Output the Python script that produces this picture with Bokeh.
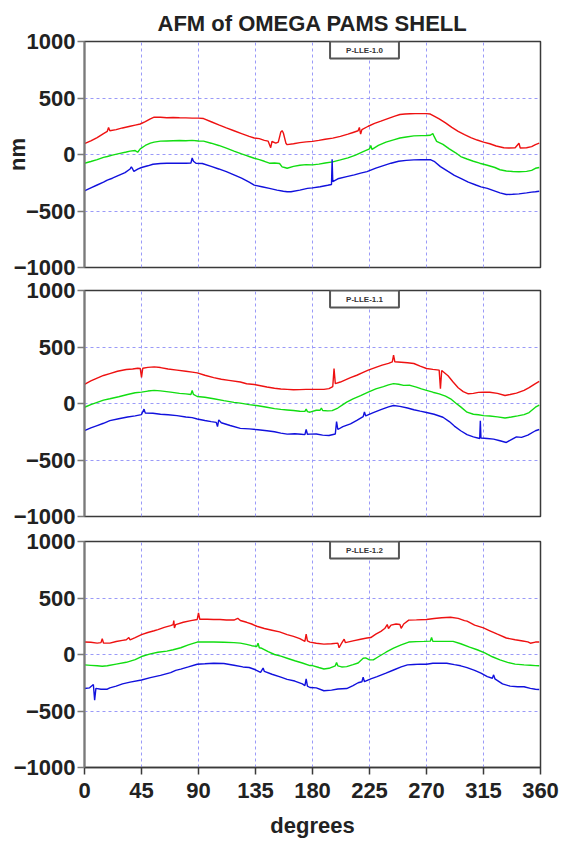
from bokeh.plotting import figure
from bokeh.models import Label, Range1d, Title
from bokeh.layouts import column
from bokeh.embed import file_html
from bokeh.resources import INLINE

# ---------------- data (degrees, nm) ----------------
TITLE = "AFM of OMEGA PAMS SHELL"
X_LABEL = "degrees"
Y_LABEL = "nm"
PANEL_NAMES = ["P-LLE-1.0", "P-LLE-1.1", "P-LLE-1.2"]
DEG_TICKS = [0, 45, 90, 135, 180, 225, 270, 315, 360]
NM_TICKS = [-1000, -500, 0, 500, 1000]

P1_RED = [(0,96),(5,120),(10,150),(15,185),(18,205),(19,240),(20,210),(25,220),(30,235),(36,250),(40,260),(44,270),
          (48,290),(52,315),(55,330),(60,330),(65,325),(70,328),(75,325),(80,324),(85,322),(90,322),(94,318),(100,290),
          (106,262),(112,235),(118,210),(124,185),(130,160),(134,146),(138,140),(142,125),(145,118),(147,60),(148,115),
          (151,100),(153,110),(155,200),(156,211),(157,190),(159,100),(160,87),(165,95),(170,105),(175,112),(180,116),
          (185,125),(190,135),(196,145),(202,161),(208,180),(212,195),(216,210),(217,240),(218,180),(219,220),(224,250),
          (229,275),(234,295),(240,320),(245,340),(249,354),(253,358),(257,360),(261,362),(265,362),(270,362),(273,358),
          (276,340),(280,315),(285,280),(290,240),(295,205),(300,175),(305,150),(310,128),(315,110),(320,95),(325,75),
          (331,60),(335,58),(340,60),(343,100),(344,58),(349,60),(353,70),(356,87),(359,100)]
P1_GREEN = [(0,-77),(5,-62),(10,-45),(15,-25),(18,-18),(22,-5),(28,10),(33,22),(36,30),(40,35),(42,20),(44,50),(48,80),
            (52,100),(55,110),(60,118),(65,120),(70,122),(75,124),(80,122),(85,125),(90,120),(94,118),(100,100),(106,80),
            (112,56),(118,30),(124,5),(128,-10),(130,-18),(134,-33),(138,-45),(142,-60),(146,-77),(150,-75),(154,-80),
            (156,-110),(158,-115),(160,-122),(165,-105),(170,-95),(175,-90),(180,-92),(185,-85),(190,-75),(196,-65),
            (202,-48),(208,-30),(214,-5),(220,25),(225,50),(226,80),(227,45),(232,80),(238,110),(244,130),(249,146),
            (254,155),(260,165),(266,167),(270,168),(273,170),(275,185),(276,160),(278,116),(283,90),(288,50),(293,15),
            (297,-18),(302,-40),(307,-60),(312,-77),(318,-95),(324,-115),(328,-135),(333,-146),(338,-150),(343,-152),
            (349,-149),(353,-140),(356,-122),(359,-115)]
P1_BLUE = [(0,-321),(5,-295),(10,-270),(15,-245),(18,-226),(22,-210),(27,-185),(32,-160),(36,-128),(37,-110),(38,-128),
           (39,-150),(42,-130),(45,-115),(50,-100),(54,-86),(60,-80),(65,-77),(70,-78),(75,-77),(80,-77),(84,-76),(85,-30),
           (86,-60),(88,-78),(93,-80),(100,-105),(106,-128),(112,-152),(118,-180),(124,-210),(130,-245),(134,-271),
           (140,-285),(146,-300),(152,-315),(157,-325),(160,-330),(163,-330),(170,-315),(176,-300),(180,-295),(186,-285),
           (192,-272),(195,-265),(195.5,-42),(196,-240),(200,-215),(207,-196),(213,-180),(218,-165),(223,-152),(230,-120),
           (236,-98),(242,-77),(248,-60),(254,-52),(260,-48),(266,-45),(270,-47),(273,-46),(276,-60),(281,-107),(287,-150),
           (292,-185),(297,-211),(303,-245),(309,-270),(313,-286),(318,-300),(323,-320),(328,-340),(333,-354),(338,-352),
           (343,-348),(349,-340),(353,-333),(356,-330),(359,-325)]

P2_RED = [(0,170),(5,200),(10,225),(15,248),(20,265),(26,285),(33,301),(38,305),(42,312),(44,310),(45,230),(46,312),
          (50,320),(55,324),(60,318),(66,305),(73,295),(80,285),(85,278),(89,271),(95,250),(102,229),(108,215),(114,205),
          (123,190),(128,175),(134,168),(140,155),(144,146),(150,135),(155,128),(160,125),(165,122),(170,123),(175,125),
          (180,125),(185,125),(189,125),(193,132),(196,150),(197,310),(198,176),(202,190),(206,210),(210,229),(215,250),
          (220,275),(224,295),(230,320),(235,340),(240,355),(243,369),(244,429),(245,369),(250,365),(255,360),(260,354),
          (265,330),(270,310),(275,302),(280,295),(281,131),(282,292),(287,245),(291,190),(295,140),(299,105),(303,86),
          (307,90),(311,98),(315,101),(320,100),(326,90),(332,71),(336,80),(341,92),(347,116),(351,140),(356,176),(359,195)]
P2_GREEN = [(0,-33),(5,-10),(10,10),(15,30),(20,42),(27,60),(34,80),(40,95),(45,101),(50,110),(55,116),(60,112),(68,101),
            (75,90),(80,85),(84,80),(85,115),(86,80),(89,62),(95,55),(102,42),(110,25),(118,10),(123,3),(130,-10),(137,-20),
            (144,-33),(150,-45),(155,-52),(160,-57),(165,-62),(170,-68),(174,-70),(175,-50),(176,-72),(178,-77),(183,-60),
            (186,-60),(187,-40),(188,-62),(192,-65),(195.5,-63),(200,-40),(204,-10),(207,12),(212,40),(218,70),(224,101),
            (230,130),(236,150),(240,165),(244,176),(248,170),(252,160),(257,161),(262,145),(266,130),(270,116),(275,100),
            (280,85),(285,65),(289,42),(293,5),(297,-30),(302,-77),(307,-95),(311,-100),(315,-107),(320,-110),(326,-118),
            (332,-128),(337,-120),(342,-110),(347,-98),(351,-80),(356,-33),(359,-15)]
P2_BLUE = [(0,-241),(5,-215),(10,-195),(15,-175),(20,-152),(27,-135),(34,-120),(40,-110),(45,-98),(47,-50),(48,-85),
           (54,-86),(60,-95),(66,-100),(73,-107),(80,-120),(85,-125),(89,-137),(95,-150),(100,-160),(104,-167),(105,-205),
           (106,-145),(108,-170),(115,-195),(123,-220),(130,-225),(137,-232),(144,-241),(150,-250),(155,-262),(160,-271),
           (166,-268),(171,-272),(174,-275),(175,-230),(176,-272),(178,-271),(183,-270),(188,-280),(193,-283),(198,-270),
           (199,-160),(200,-230),(204,-205),(210,-180),(215,-150),(220,-116),(221,-75),(222,-110),(228,-80),(234,-55),
           (240,-30),(244,-18),(249,-25),(255,-40),(260,-55),(265,-68),(270,-80),(276,-95),(283,-122),(288,-160),
           (292,-200),(297,-241),(302,-275),(307,-295),(312,-310),(312.5,-152),(313,-305),(318,-310),(323,-315),
           (328,-330),(333,-345),(337,-320),(341,-295),(345,-300),(350,-280),(356,-241),(359,-230)]

P3_RED = [(0,110),(5,108),(10,101),(13,105),(14,140),(15,102),(20,101),(25,115),(30,125),(33,131),(35,150),(36,130),
          (40,150),(45,176),(50,195),(55,210),(58,220),(63,240),(68,255),(70,265),(70.5,300),(71,235),(72,265),(78,285),
          (84,300),(89,310),(90,369),(91,312),(97,312),(102,310),(107,310),(112,305),(118,305),(121,320),(123,301),
          (128,285),(132,270),(136,250),(142,230),(148,215),(154,200),(160,176),(165,160),(170,140),(174,116),(175,180),
          (176,120),(178,110),(183,100),(189,92),(195,95),(200,101),(201,60),(203,100),(205,135),(206,105),(212,120),
          (218,135),(223,146),(226,150),(230,180),(234,205),(237,230),(239,265),(240,230),(242,260),(246,270),(249,265),
          (250,232),(252,270),(256,304),(262,306),(270,310),(276,318),(282,325),(289,330),(295,320),(300,300),(302,295),
          (308,260),(315,235),(320,210),(326,180),(333,146),(340,130),(346,120),(350,112),(352,100),(356,110),(359,110)]
P3_GREEN = [(0,-92),(5,-96),(10,-100),(14,-104),(18,-100),(25,-85),(33,-69),(40,-45),(45,-18),(52,5),(58,20),(65,30),
            (70,42),(76,60),(82,85),(89,110),(95,112),(102,110),(110,108),(118,105),(123,101),(128,90),(132,78),(136,71),
            (137,100),(138,60),(140,55),(145,25),(150,0),(155,-15),(160,-33),(166,-55),(172,-75),(178,-98),(180,-98),
            (185,-115),(189,-128),(193,-122),(198,-100),(199,-70),(200,-100),(203,-110),(207,-107),(212,-90),(216,-75),
            (220,-33),(222,-30),(225,-48),(228,-48),(232,-20),(238,20),(244,56),(250,85),(256,110),(262,114),(268,116),
            (273,118),(274,150),(275,116),(282,116),(291,116),(297,95),(304,65),(310,42),(316,15),(322,-20),(328,-48),
            (334,-70),(340,-85),(347,-92),(352,-95),(356,-98),(359,-100)]
P3_BLUE = [(0,-301),(4,-295),(7,-265),(8,-405),(9,-300),(13,-307),(18,-307),(20,-295),(25,-280),(30,-260),(36,-245),
           (45,-226),(52,-205),(60,-185),(68,-160),(72,-140),(76,-130),(82,-110),(89,-86),(95,-82),(102,-77),(110,-80),
           (118,-95),(125,-110),(130,-115),(135,-135),(139,-158),(141,-120),(142,-150),(148,-175),(155,-200),(160,-220),
           (166,-235),(172,-260),(174,-275),(175,-215),(176,-280),(178,-292),(183,-295),(189,-321),(195,-315),(200,-305),
           (207,-301),(212,-275),(216,-250),(219,-241),(220,-200),(221,-241),(226,-215),(231,-196),(238,-165),(244,-137),
           (250,-110),(255,-92),(260,-88),(265,-85),(270,-86),(275,-78),(280,-77),(286,-77),(292,-90),(297,-100),
           (302,-116),(308,-140),(313,-165),(318,-196),(322,-210),(323,-180),(324,-215),(330,-260),(336,-280),(342,-285),
           (347,-285),(352,-300),(356,-307),(359,-310)]

PANELS = [(P1_RED, P1_GREEN, P1_BLUE), (P2_RED, P2_GREEN, P2_BLUE), (P3_RED, P3_GREEN, P3_BLUE)]
SERIES_COLORS = ["#ee1111", "#11dd11", "#1111dd"]

FONT = "Liberation Sans"
TXT = "#222222"
FRAME_W, FRAME_H = 456, 226
BORDER_TOP = [41, 11, 13]
BORDER_BOTTOM = [12, 12, 74]


def style_text(obj, prefix, size):
    setattr(obj, prefix + "_text_font", FONT)
    setattr(obj, prefix + "_text_font_style", "bold")
    setattr(obj, prefix + "_text_font_size", size)
    setattr(obj, prefix + "_text_color", TXT)


def make_panel(idx, series, first, last):
    p = figure(frame_width=FRAME_W, frame_height=FRAME_H,
               x_range=Range1d(0, 360), y_range=Range1d(-1000, 1000),
               output_backend="svg", toolbar_location=None,
               min_border_left=84, min_border_right=20,
               min_border_top=BORDER_TOP[idx], min_border_bottom=BORDER_BOTTOM[idx],
               background_fill_color="white", border_fill_color="white")
    p.outline_line_color = "#3a3a3a"
    p.outline_line_width = 1.5

    for pts, col in zip(series, SERIES_COLORS):
        xs = [a for a, b in pts]
        ys = [b for a, b in pts]
        p.line(xs, ys, line_color=col, line_width=1.4)

    # grid
    p.xgrid.ticker = DEG_TICKS
    p.ygrid.ticker = NM_TICKS
    for g in (p.xgrid, p.ygrid):
        g.grid_line_color = "#9a9af8"
        g.grid_line_dash = "3 3"
        g.grid_line_width = 1

    # y axis
    ax = p.yaxis[0]
    ax.ticker = NM_TICKS
    ax.major_label_overrides = {-1000: "\u22121000", -500: "\u2212500"}
    ax.axis_line_color = "#7a7a7a"
    ax.axis_line_width = 2
    ax.major_tick_line_color = "#7a7a7a"
    ax.major_tick_line_width = 1.5
    ax.major_tick_out = 7
    ax.major_tick_in = 0
    ax.minor_tick_line_color = None
    style_text(ax, "major_label", "22px")
    ax.major_label_standoff = 2
    if first:
        ax.axis_label = Y_LABEL
        style_text(ax, "axis_label", "22px")
        ax.axis_label_standoff = -19

    # x axis
    if last:
        bx = p.xaxis[0]
        bx.ticker = DEG_TICKS
        bx.axis_line_color = "#3a3a3a"
        bx.axis_line_width = 1.5
        bx.major_tick_line_color = "#3a3a3a"
        bx.major_tick_line_width = 1.5
        bx.major_tick_out = 7
        bx.major_tick_in = 0
        bx.minor_tick_line_color = None
        style_text(bx, "major_label", "22px")
        bx.major_label_standoff = 8
        bx.axis_label = X_LABEL
        style_text(bx, "axis_label", "22px")
        bx.axis_label_standoff = 12
    else:
        p.xaxis.visible = False

    if first:
        t = Title(text=TITLE, align="center", text_font=FONT, text_font_style="bold",
                  text_font_size="22px", text_color=TXT, standoff=12)
        p.add_layout(t, "above")

    # small legend box
    p.add_layout(Label(x=280, y=FRAME_H, x_units="screen", y_units="screen",
                       text=PANEL_NAMES[idx], text_font=FONT, text_font_style="bold",
                       text_font_size="8px", text_color="#333333",
                       text_align="center", text_baseline="top",
                       background_fill_color="white", border_line_color="#555555",
                       border_line_width=2, padding=(16, 4)))
    return p


figs = [make_panel(i, PANELS[i], i == 0, i == 2) for i in range(3)]
layout = column(*figs, spacing=0)

open("out.html", "w").write(file_html(layout, INLINE))
